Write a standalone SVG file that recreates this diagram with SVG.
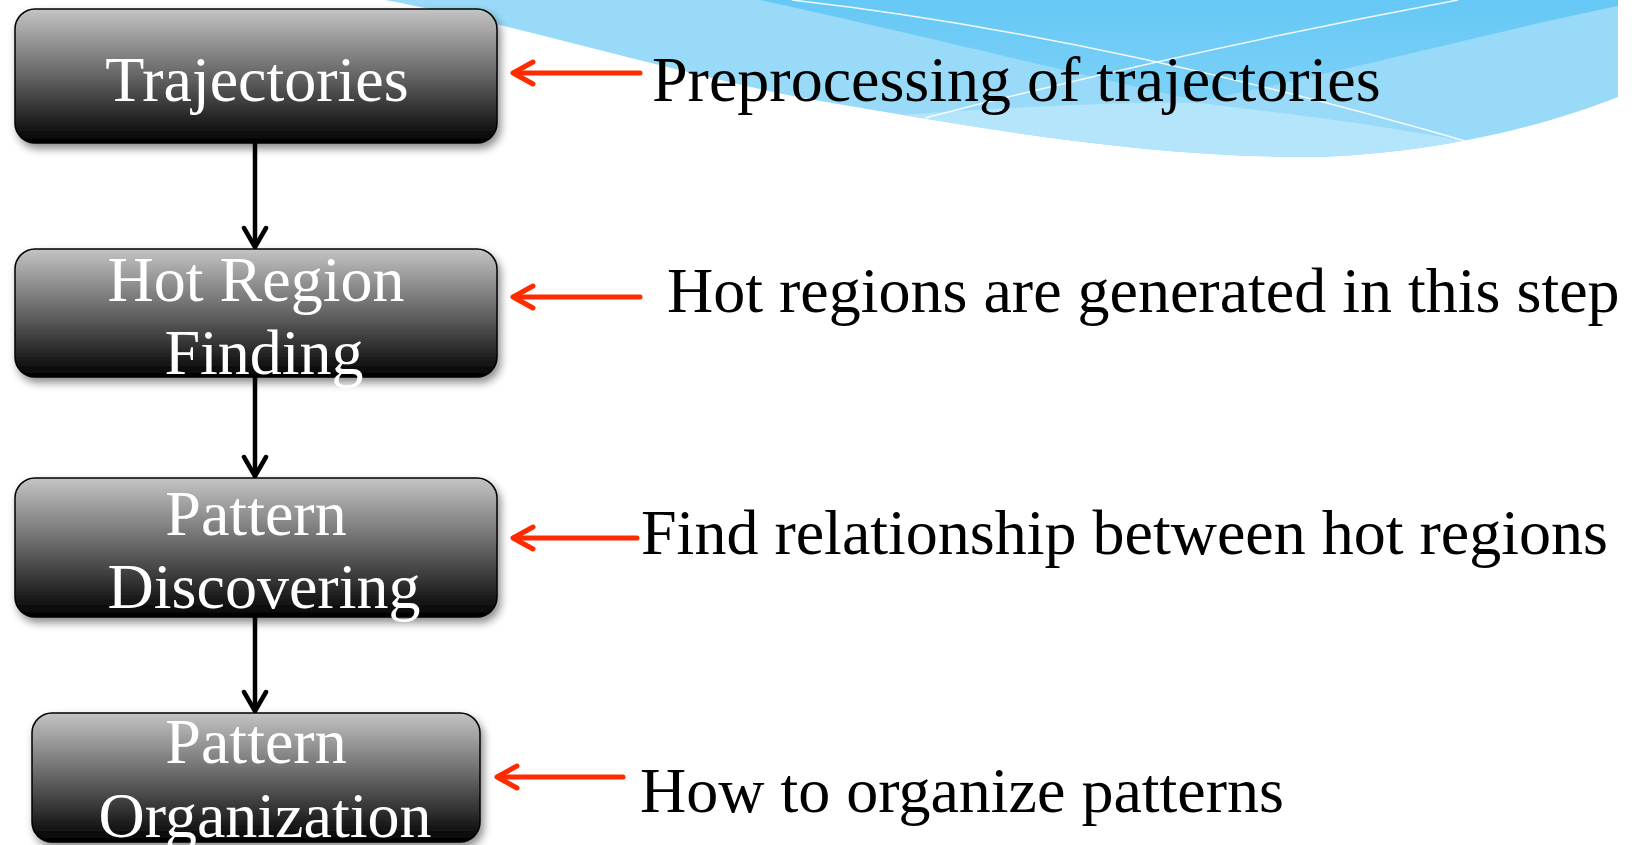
<svg xmlns="http://www.w3.org/2000/svg" width="1638" height="845" viewBox="0 0 1638 845">
  <defs>
    <linearGradient id="boxFill" x1="0" y1="0" x2="0" y2="1">
      <stop offset="0" stop-color="#c4c4c4"/>
      <stop offset="0.5" stop-color="#646464"/>
      <stop offset="1" stop-color="#000000"/>
    </linearGradient>
    <linearGradient id="deepBlue" x1="0" y1="0" x2="0" y2="1">
      <stop offset="0" stop-color="#66c8f5"/>
      <stop offset="1" stop-color="#7dd1f7"/>
    </linearGradient>
    <filter id="shadow" x="-10%" y="-10%" width="125%" height="135%">
      <feDropShadow dx="3" dy="5" stdDeviation="4" flood-color="#000" flood-opacity="0.45"/>
    </filter>
    <clipPath id="waveClip">
      <path d="M385,0 C520,25 690,78 820,101 C990,130 1150,158 1320,157 C1450,152 1555,122 1618,97 L1618,0 Z"/>
    </clipPath>
  </defs>
  <style>
    .box { fill: url(#boxFill); stroke: #000; stroke-width: 1.5; filter: url(#shadow); }
    .boxText { font-family: "Liberation Serif", "Times New Roman", serif; font-size: 64px; fill: #ffffff; text-anchor: middle; }
    .note { font-family: "Liberation Serif", "Times New Roman", serif; font-size: 64px; fill: #000000; }
    .flow { fill: none; stroke: #000; stroke-width: 4.5; stroke-linecap: round; stroke-linejoin: round; }
    .pointer { fill: none; stroke: #ff2a00; stroke-width: 5; stroke-linecap: round; stroke-linejoin: round; }
    .streak { fill: none; stroke: #ffffff; stroke-width: 1.5; opacity: 0.9; }
  </style>

  <rect x="0" y="0" width="1638" height="845" fill="#ffffff"/>

  <!-- decorative wave in the top-right corner -->
  <g id="wave" clip-path="url(#waveClip)">
    <rect x="380" y="0" width="1240" height="170" fill="#98daf8"/>
    <path d="M760,0 C900,30 1080,75 1200,101 C1350,70 1500,30 1618,6 L1618,0 Z" fill="url(#deepBlue)"/>
    <path d="M900,115 C1000,108 1120,101 1200,103 C1300,115 1400,128 1472,143 L1472,200 L900,200 Z" fill="#b4e5fb"/>
    <path class="streak" d="M792,0 Q1100,35 1472,143"/>
    <path class="streak" d="M925,118 Q1180,52 1458,0"/>
  </g>

  <!-- flow connectors between steps -->
  <g id="connectors">
    <path class="flow" d="M255,143 L255,247"/>
    <path class="flow" d="M244,228 L255,247 L266,228"/>
    <path class="flow" d="M255,377 L255,476"/>
    <path class="flow" d="M244,457 L255,476 L266,457"/>
    <path class="flow" d="M255,617 L255,711"/>
    <path class="flow" d="M244,692 L255,711 L266,692"/>

    <path class="pointer" d="M640,73 L514,73"/>
    <path class="pointer" d="M533,62 L513,73 L533,84"/>
    <path class="pointer" d="M640,297 L514,297"/>
    <path class="pointer" d="M533,286 L513,297 L533,308"/>
    <path class="pointer" d="M637,538 L514,538"/>
    <path class="pointer" d="M533,527 L513,538 L533,549"/>
    <path class="pointer" d="M623,777 L498,777"/>
    <path class="pointer" d="M517,766 L497,777 L517,788"/>
  </g>

  <g id="trajectories">
    <rect class="box" x="15" y="9" width="482" height="134" rx="20" ry="20"/>
    <text class="boxText" x="257" y="101">Trajectories</text>
  </g>

  <g id="hot-region-finding">
    <rect class="box" x="15" y="249" width="482" height="128" rx="20" ry="20"/>
    <text class="boxText" x="256" y="301">Hot Region</text>
    <text class="boxText" x="264" y="374">Finding</text>
  </g>

  <g id="pattern-discovering">
    <rect class="box" x="15" y="478" width="482" height="139" rx="20" ry="20"/>
    <text class="boxText" x="256" y="535">Pattern</text>
    <text class="boxText" x="264" y="608">Discovering</text>
  </g>

  <g id="pattern-organization">
    <rect class="box" x="32" y="713" width="448" height="129" rx="20" ry="20"/>
    <text class="boxText" x="256" y="763">Pattern</text>
    <text class="boxText" x="265" y="837">Organization</text>
  </g>

  <g id="notes">
    <text class="note" x="652" y="101">Preprocessing of trajectories</text>
    <text class="note" x="667" y="312">Hot regions are generated in this step</text>
    <text class="note" x="641" y="554">Find relationship between hot regions</text>
    <text class="note" x="640" y="812">How to organize patterns</text>
  </g>
</svg>
